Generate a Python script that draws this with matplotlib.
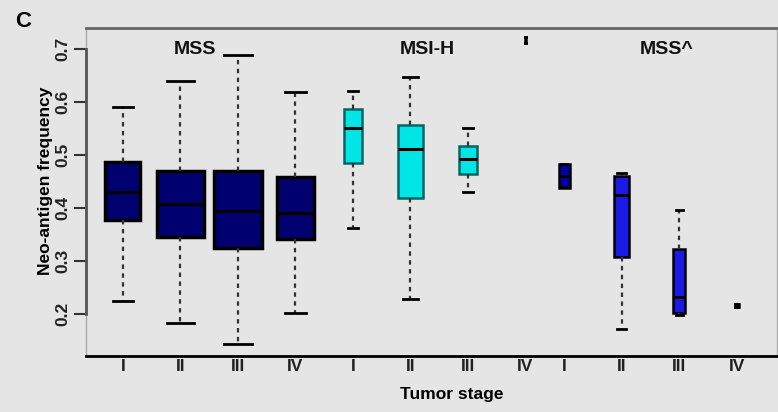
import matplotlib
matplotlib.use('Agg')
import matplotlib.pyplot as plt

plt.rcParams['font.family'] = ['Liberation Sans', 'DejaVu Sans']

# values (neo-antigen frequency per tumor stage)
groups = ['MSS', 'MSI-H', 'MSS^']
stages = ['I', 'II', 'III', 'IV'] * 3
positions = [1, 2, 3, 4, 5, 6, 7, 8, 8.67, 9.67, 10.67, 11.67]
whislo = [0.224, 0.183, 0.143, 0.202, 0.362, 0.228, 0.430, 0.711, 0.440, 0.172, 0.198, 0.213]
q1 = [0.377, 0.345, 0.324, 0.341, 0.485, 0.419, 0.464, 0.711, 0.438, 0.307, 0.202, 0.213]
med = [0.430, 0.407, 0.394, 0.391, 0.551, 0.511, 0.492, 0.716, 0.460, 0.424, 0.232, 0.215]
q3 = [0.487, 0.470, 0.470, 0.458, 0.587, 0.557, 0.517, 0.722, 0.483, 0.460, 0.323, 0.218]
whishi = [0.591, 0.640, 0.689, 0.619, 0.621, 0.647, 0.551, 0.722, 0.483, 0.466, 0.396, 0.218]
widths = [0.61, 0.82, 0.83, 0.63, 0.31, 0.45, 0.31, 0.03, 0.19, 0.26, 0.21, 0.07]

navy = '#00006e'
cyan = '#00e5e5'
blue = '#1a1ae6'
face = [navy] * 4 + [cyan] * 3 + ['black'] + ['#0000a8', blue, blue, 'black']
edge = ['black'] * 4 + ['#006666'] * 3 + ['black'] * 5
bg = '#e5e5e5'

fig = plt.figure(figsize=(7.78, 4.12), dpi=100, facecolor=bg)
ax = fig.add_axes([0.1105, 0.136, 0.888, 0.796])
ax.set_facecolor(bg)

stats = []
for i in range(len(positions)):
    stats.append({'whislo': whislo[i], 'q1': q1[i], 'med': med[i],
                  'q3': q3[i], 'whishi': whishi[i], 'fliers': []})

bp = ax.bxp(stats, positions=positions, widths=widths,
            capwidths=[w * 0.57 for w in widths], patch_artist=True,
            showfliers=False, manage_ticks=False)

for i, box in enumerate(bp['boxes']):
    box.set_facecolor(face[i])
    box.set_edgecolor(edge[i])
    box.set_linewidth(2.5 if i < 4 else 1.8)
for m in bp['medians']:
    m.set_color('black')
    m.set_linewidth(2.2)
for w in bp['whiskers']:
    w.set_color('#333333')
    w.set_linewidth(1.6)
    w.set_linestyle((0, (2, 2)))
for c in bp['caps']:
    c.set_color('black')
    c.set_linewidth(2)

ax.set_xlim(0.357, 12.37)
ax.set_ylim(0.1208, 0.7396)
ax.set_xticks(positions)
ax.set_xticklabels(stages, fontsize=12.5, fontweight='bold', color='#222222')
ax.tick_params(axis='x', length=0, pad=2)

ax.set_yticks([0.2, 0.3, 0.4, 0.5, 0.6, 0.7])
ax.set_yticklabels(['0.2', '0.3', '0.4', '0.5', '0.6', '0.7'], rotation=90,
                   va='center', fontsize=12.5, fontweight='bold', color='#222222')
ax.tick_params(axis='y', length=9, width=1.5, color='#333333', pad=2)

ax.spines['left'].set_bounds(0.2, 0.7)
ax.spines['left'].set_color('#555555')
ax.spines['left'].set_linewidth(2)
ax.spines['top'].set_color('#666666')
ax.spines['top'].set_linewidth(2)
ax.spines['bottom'].set_color('black')
ax.spines['bottom'].set_linewidth(2)
ax.spines['right'].set_color('#aaaaaa')
ax.spines['right'].set_linewidth(1)
ax.plot([0, 0], [0, 1], transform=ax.transAxes, color='#aaaaaa', lw=1,
        clip_on=False)

ax.set_ylabel('Neo-antigen frequency', fontsize=12.5, fontweight='bold')
ax.yaxis.set_label_coords(-0.059, 0.534)
ax.set_xlabel('Tumor stage', fontsize=12.5, fontweight='bold')
ax.xaxis.set_label_coords(0.53, -0.119)
ax.xaxis.label.set_va('center')
ax.yaxis.label.set_va('center')

label_x = [2.25, 6.3, 10.45]
for gx, g in zip(label_x, groups):
    ax.text(gx, 0.7, g, ha='center', va='center', fontsize=14,
            fontweight='bold', color='#111111')

fig.text(0.03, 0.949, 'C', fontsize=16, fontweight='bold', ha='center',
         va='center')

fig.savefig('out.png', dpi=100, facecolor=bg)
